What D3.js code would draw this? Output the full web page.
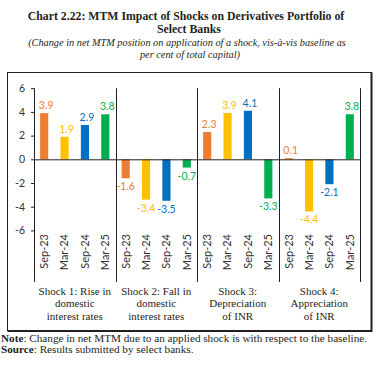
<!DOCTYPE html>
<html>
<head>
<meta charset="utf-8">
<script src="https://cdn.jsdelivr.net/npm/d3@7"></script>
<style>
  body { margin: 0; background: #fff; }
  svg { display: block; }
</style>
</head>
<body>
<div id="chart"></div>
<script>
// data
var shocks = ["Shock 1", "Shock 2", "Shock 3", "Shock 4"];
var shockLabels = [
  ["Shock 1: Rise in", "domestic", "interest rates"],
  ["Shock 2: Fall in", "domestic", "interest rates"],
  ["Shock 3:", "Depreciation", "of INR"],
  ["Shock 4:", "Appreciation", "of INR"]
];
var periods = ["Sep-23", "Mar-24", "Sep-24", "Mar-25"];
var shock1 = [3.9, 1.9, 2.9, 3.8];
var shock2 = [-1.6, -3.4, -3.5, -0.7];
var shock3 = [2.3, 3.9, 4.1, -3.3];
var shock4 = [0.1, -4.4, -2.1, 3.8];
var yTicks = [-6, -4, -2, 0, 2, 4, 6];

var colors = ["#ED7D31", "#FFC000", "#0070C0", "#00B050"];
var serif = "'Liberation Serif', serif";
var sans = "Lato, 'Noto Sans', sans-serif";

var allValues = [shock1, shock2, shock3, shock4];
var rows = [];
shocks.forEach(function (s, i) {
  periods.forEach(function (p, j) {
    rows.push({shock: s, period: p, value: allValues[i][j], color: colors[j]});
  });
});

var W = 381, H = 371;
var svg = d3.select("#chart").append("svg")
    .attr("width", W)
    .attr("height", H);

// title + subtitle
var title = svg.append("g").attr("font-family", serif).attr("fill", "#231f20")
    .attr("text-anchor", "middle");
title.append("text").attr("x", 186).attr("y", 20)
    .attr("font-size", "11.8px").attr("font-weight", "bold")
    .text("Chart 2.22: MTM Impact of Shocks on Derivatives Portfolio of");
title.append("text").attr("x", 189).attr("y", 32.5)
    .attr("font-size", "11.8px").attr("font-weight", "bold")
    .text("Select Banks");
title.append("text").attr("x", 187).attr("y", 46)
    .attr("font-size", "10.3px").attr("font-style", "italic")
    .text("(Change in net MTM position on application of a shock, vis-à-vis baseline as");
title.append("text").attr("x", 190).attr("y", 58)
    .attr("font-size", "10.3px").attr("font-style", "italic")
    .text("per cent of total capital)");

// frame
svg.append("rect")
    .attr("x", 7.5).attr("y", 72.5)
    .attr("width", 364).attr("height", 258)
    .attr("fill", "none").attr("stroke", "#231f20").attr("stroke-width", 1);
svg.append("path")
    .attr("d", "M371.5,72.5V331H7.5")
    .attr("fill", "none").attr("stroke", "#231f20").attr("stroke-width", 2);

// scales
var plotLeft = 34, plotRight = 360, plotTop = 88.2, plotBottom = 230.4, axisEnd = 282;

var x0 = d3.scaleBand().domain(shocks).range([plotLeft, plotRight]).padding(0);
var x1 = d3.scaleBand().domain(periods).range([0, x0.bandwidth()])
    .paddingInner(0.6).paddingOuter(0.3);
var y = d3.scaleLinear().domain([-6, 6]).range([plotBottom, plotTop]);

var plot = svg.append("g");

// y axis (plain hyphen for negatives, like the original)
var yAxis = plot.append("g")
    .attr("transform", "translate(" + plotLeft + ",0)")
    .call(d3.axisLeft(y).tickValues(yTicks).tickFormat(function (d) { return String(d); })
      .tickSize(3).tickPadding(6).tickSizeOuter(0));
yAxis.select(".domain").remove();
yAxis.selectAll("line").attr("stroke", "#231f20");
yAxis.selectAll("text")
    .attr("font-family", sans).attr("font-size", "10.5px").attr("fill", "#333");

// axis line and group separators
var seps = [plotLeft].concat(shocks.map(function (s) { return x0(s) + x0.bandwidth(); }));
plot.selectAll(".sep")
    .data(seps)
    .enter()
    .append("line")
    .attr("class", "sep")
    .attr("x1", function (d) { return Math.round(d) + 0.5; })
    .attr("x2", function (d) { return Math.round(d) + 0.5; })
    .attr("y1", y(6))
    .attr("y2", axisEnd)
    .attr("stroke", "#231f20");

// bars
plot.selectAll(".bar")
    .data(rows)
    .enter()
    .append("rect")
    .attr("class", "bar")
    .attr("x", function (d) { return x0(d.shock) + x1(d.period); })
    .attr("width", x1.bandwidth())
    .attr("y", function (d) { return y(Math.max(0, d.value)); })
    .attr("height", function (d) { return Math.abs(y(d.value) - y(0)); })
    .attr("fill", function (d) { return d.color; });

// zero line
plot.append("line")
    .attr("x1", plotLeft).attr("x2", plotRight)
    .attr("y1", y(0) + 0.5).attr("y2", y(0) + 0.5)
    .attr("stroke", "#231f20");

// value labels
plot.selectAll(".val")
    .data(rows)
    .enter()
    .append("text")
    .attr("class", "val")
    .attr("x", function (d) { return x0(d.shock) + x1(d.period) + x1.bandwidth() / 2 + (d.value >= 0 ? 2 : 0); })
    .attr("y", function (d) { return d.value >= 0 ? y(d.value) - 4 : y(d.value) + 12; })
    .attr("text-anchor", "middle")
    .attr("font-family", sans).attr("font-size", "10.5px")
    .attr("fill", function (d) { return d.color; })
    .text(function (d) { return d.value.toFixed(1); });

// period labels (rotated)
plot.selectAll(".per")
    .data(rows)
    .enter()
    .append("text")
    .attr("class", "per")
    .attr("transform", function (d) {
      return "translate(" + (x0(d.shock) + x1(d.period) + x1.bandwidth() / 2) + "," + 234 + ") rotate(-90)";
    })
    .attr("dy", "0.35em")
    .attr("text-anchor", "end")
    .attr("font-family", sans).attr("font-size", "11px").attr("fill", "#333")
    .text(function (d) { return d.period; });

// shock group labels
var grp = plot.selectAll(".grp")
    .data(shocks)
    .enter()
    .append("text")
    .attr("class", "grp")
    .attr("text-anchor", "middle")
    .attr("font-family", serif).attr("font-size", "11px").attr("fill", "#231f20");
grp.selectAll("tspan")
    .data(function (d, i) { return shockLabels[i].map(function (t) { return {t: t, s: d}; }); })
    .enter()
    .append("tspan")
    .attr("x", function (d) { return x0(d.s) + x0.bandwidth() / 2; })
    .attr("y", function (d, i) { return 294.5 + i * 12.5; })
    .text(function (d) { return d.t; });

// note and source
var foot = svg.append("g").attr("font-family", serif).attr("font-size", "11.2px").attr("fill", "#231f20");
var n1 = foot.append("text").attr("x", 1).attr("y", 342);
n1.append("tspan").attr("font-weight", "bold").text("Note");
n1.append("tspan").text(": Change in net MTM due to an applied shock is with respect to the baseline.");
var n2 = foot.append("text").attr("x", 1).attr("y", 352.5);
n2.append("tspan").attr("font-weight", "bold").text("Source");
n2.append("tspan").text(": Results submitted by select banks.");
</script>
</body>
</html>
